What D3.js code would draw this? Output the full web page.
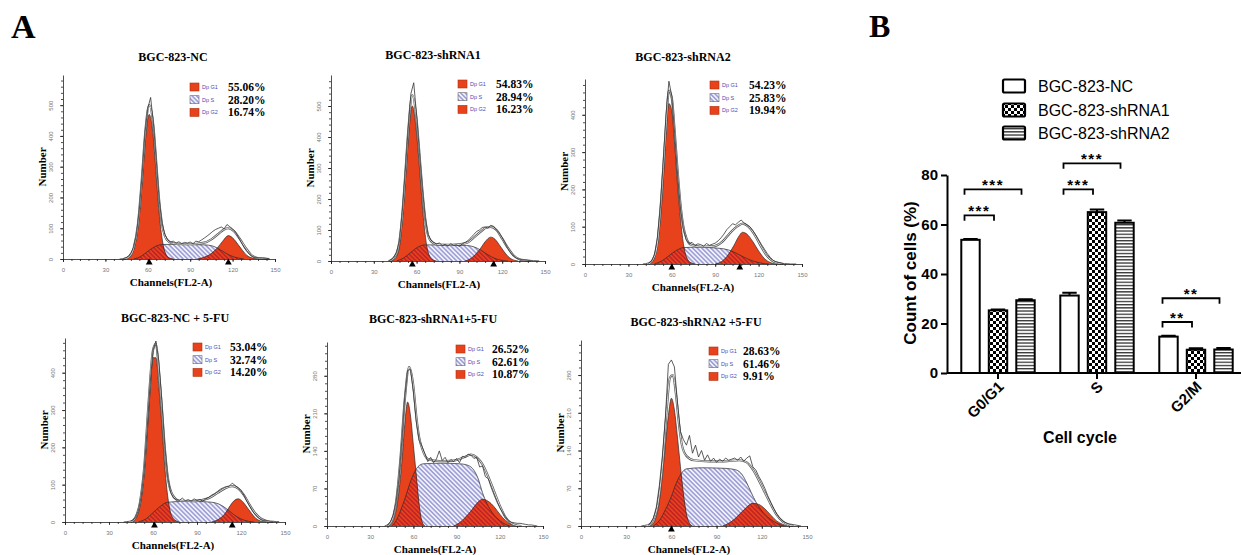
<!DOCTYPE html>
<html lang="en">
<head>
<meta charset="UTF-8">
<title>BGC-823 cell cycle</title>
<style>
  body { margin: 0; background: #fff; }
  svg { display: block; }
</style>
</head>
<body>
<div id="figure"></div>
<script src="https://d3js.org/d3.v7.min.js"></script>
<script>

// ---------- panel A : DNA histograms ----------
const titles = ['BGC-823-NC', 'BGC-823-shRNA1', 'BGC-823-shRNA2',
                'BGC-823-NC + 5-FU', 'BGC-823-shRNA1+5-FU', 'BGC-823-shRNA2 +5-FU'];
const g1Pct = ['55.06%', '54.83%', '54.23%', '53.04%', '26.52%', '28.63%'];
const sPct  = ['28.20%', '28.94%', '25.83%', '32.74%', '62.61%', '61.46%'];
const g2Pct = ['16.74%', '16.23%', '19.94%', '14.20%', '10.87%', '9.91%'];
const yMax  = [598, 600, 496, 493, 343, 345];
const yStep = [100, 100, 100, 100, 70, 70];
const peakMarks = [[61, 117], [57, 114], [60, 107], [61, 114], [], [60]];

const channels = [40,42,44,46,48,50,52,54,56,58,60,62,64,66,68,70,72,74,76,78,80,82,84,86,
                  88,90,92,94,96,98,100,102,104,106,108,110,112,114,116,118,120,122,124,126,
                  128,130,132,134,136,138,140,142,144,146];

const rawCounts = [
  [0,1,3,8,20,38,80,160,275,410,490,525, 440,320,195,118,80,64,55,58,52,56,50,54,
   52,55,50,58,56,62,68,75,82,90,96,100, 104,98,112,105,98,88,72,55,38,25,15,8, 5,4,3,3,2,1],
  [0,4,12,28,65,160,285,420,540,575,470,350, 235,140,85,68,60,55,58,50,54,48,56,50,
   52,47,55,60,66,75,85,95,100,108,110,106, 115,112,100,90,75,58,40,26,16,9,6,4, 3,2,2,1,1,0],
  [0,1,3,8,25,70,150,270,400,490,450,350, 240,150,95,65,55,58,50,54,52,48,55,50,
   53,56,62,70,80,92,100,108,105,112,118,110, 105,100,90,78,65,52,40,28,18,10,6,4, 2,1,1,0,0,0],
  [0,1,2,4,12,30,70,140,250,370,460,485, 430,325,205,120,80,64,60,58,64,57,60,56,
   62,58,60,56,62,66,72,76,82,88,92,95, 96,104,98,92,84,72,56,42,28,18,10,6, 4,3,2,2,1,1],
  [0,2,8,20,45,90,160,240,290,292,250,195, 160,148,135,120,128,118,125,140,122,128,118,124,
   120,126,118,130,128,134,132,126,128,110,112,92, 88,72,58,45,34,25,16,10,7,6,5,5, 4,3,2,2,1,0],
  [0,1,2,5,14,35,75,130,200,300,308,295, 230,175,160,150,168,135,150,128,140,122,132,120,
   126,118,124,120,126,122,124,126,122,128,120,126, 130,110,104,92,82,70,56,44,32,22,14,9, 6,4,3,2,1,0]
];

const g1Curves = [
  [[44,0],[47,6],[50,30],[53,100],[56,250],[58,370],[61,470],[64,390],[66,270],[68,150],[70,70],[72,25],[75,4],[78,0]],
  [[42,0],[45,8],[48,45],[50,130],[52,250],[54,380],[57,500],[60,410],[62,300],[64,180],[66,85],[68,30],[71,5],[74,0]],
  [[44,0],[47,10],[50,50],[52,115],[54,215],[56,350],[58,430],[60,410],[62,320],[64,210],[66,120],[68,55],[70,20],[73,4],[76,0]],
  [[45,0],[48,8],[51,40],[54,130],[56,235],[58,350],[60,440],[62,440],[64,360],[66,260],[68,150],[70,70],[72,25],[75,5],[78,0]],
  [[43,0],[46,10],[49,45],[52,120],[54,190],[56,231],[58,205],[60,150],[62,95],[64,40],[66,8],[68,0]],
  [[46,0],[49,10],[52,45],[55,120],[58,205],[60,237],[62,215],[64,165],[66,110],[68,60],[70,22],[72,5],[74,0]]
];

const sCurves = [
  [[50,0],[55,8],[60,25],[65,40],[70,47],[80,48],[90,47],[100,46],[106,42],[112,28],[118,12],[124,3],[128,0]],
  [[46,0],[51,10],[56,28],[61,45],[66,52],[75,52],[85,51],[95,50],[100,46],[105,35],[110,20],[115,8],[120,2],[124,0]],
  [[48,0],[53,8],[58,22],[63,36],[68,44],[75,45],[85,44],[93,42],[99,38],[104,30],[109,20],[114,11],[119,5],[124,1],[127,0]],
  [[50,0],[55,8],[60,25],[65,42],[70,53],[80,55],[90,55],[100,53],[105,48],[110,36],[115,20],[120,8],[125,2],[129,0]],
  [[45,0],[48,10],[51,28],[54,50],[57,75],[60,96],[63,110],[67,116],[80,117],[92,116],[98,113],[102,104],[105,88],[108,62],[111,42],[115,24],[120,10],[124,3],[127,0]],
  [[48,0],[52,10],[56,30],[60,55],[63,78],[66,95],[70,106],[80,108],[95,107],[103,104],[107,95],[110,80],[113,62],[116,45],[120,28],[125,14],[130,5],[135,0]]
];

const g2Curves = [
  [[95,0],[100,6],[105,18],[109,35],[113,58],[117,76],[121,64],[124,46],[127,28],[130,12],[134,3],[138,0]],
  [[94,0],[98,8],[102,25],[105,42],[108,62],[112,77],[115,70],[118,52],[121,32],[124,15],[127,5],[131,0]],
  [[90,0],[95,8],[99,25],[103,50],[106,72],[109,85],[112,80],[116,60],[120,35],[124,15],[128,4],[132,0]],
  [[100,0],[105,8],[109,22],[112,40],[115,56],[118,62],[121,55],[124,40],[127,24],[130,10],[133,3],[137,0]],
  [[88,0],[92,6],[96,16],[100,28],[104,42],[108,50],[112,46],[116,36],[120,22],[124,10],[128,3],[131,0]],
  [[94,0],[98,5],[102,13],[106,24],[110,35],[114,42],[118,40],[122,32],[126,20],[130,9],[134,3],[137,0]]
];

const fitCurves = [
  [[43,0],[47,8],[50,36],[53,112],[56,272],[58,400],[61,500],[64,430],[66,312],[68,192],[70,115],[72,76],[75,56],[80,49],[90,48],[100,53],[105,64],[110,82],[114,96],[117,100],[121,90],[125,66],[129,38],[133,14],[137,4],[142,1],[146,0]],
  [[41,0],[44,10],[47,40],[50,150],[52,275],[54,410],[57,535],[60,455],[62,345],[64,230],[66,138],[68,84],[71,60],[75,53],[85,52],[95,58],[100,75],[105,95],[109,108],[112,110],[116,100],[120,72],[124,42],[128,18],[132,6],[136,2],[140,0]],
  [[44,0],[47,12],[50,55],[53,190],[56,370],[58,465],[60,445],[62,355],[64,250],[66,160],[68,100],[70,70],[73,52],[80,46],[88,47],[95,60],[100,82],[105,100],[109,108],[113,100],[117,80],[121,52],[125,26],[129,10],[133,3],[137,0]],
  [[45,0],[48,12],[51,50],[54,145],[57,320],[60,460],[62,478],[64,405],[66,308],[68,200],[70,122],[73,75],[78,57],[88,56],[98,64],[104,78],[110,92],[114,96],[118,90],[122,72],[126,45],[130,22],[134,8],[138,2],[142,0]],
  [[42,0],[45,10],[48,45],[51,125],[54,235],[57,296],[60,260],[62,205],[64,165],[66,145],[70,125],[78,121],[88,122],[95,128],[100,133],[104,128],[108,115],[112,92],[116,65],[120,38],[124,16],[128,5],[132,1],[135,0]],
  [[45,0],[48,12],[51,40],[54,110],[57,220],[59,275],[61,280],[63,245],[65,190],[67,150],[70,130],[75,122],[85,120],[95,120],[105,122],[110,118],[114,105],[118,85],[122,62],[126,40],[130,20],[134,8],[138,2],[141,0]]
];

// ---------- panel B : bar chart ----------
const phases = ['G0/G1', 'S', 'G2/M'];
const cellLines = ['BGC-823-NC', 'BGC-823-shRNA1', 'BGC-823-shRNA2'];
const ncMean  = [53.8, 31.3, 14.7];
const sh1Mean = [25.3, 65.0, 9.4];
const sh2Mean = [29.4, 60.7, 9.5];
const ncErr   = [0.3, 1.1, 0.4];
const sh1Err  = [0.4, 1.1, 0.6];
const sh2Err  = [0.4, 0.9, 0.6];
const sigPhase  = [0, 0, 1, 1, 2, 2];
const sigTarget = [1, 2, 1, 2, 1, 2];
const sigLevel  = [63.7, 74.2, 74.2, 84.7, 20.6, 30.2];
const sigStars  = ['***', '***', '***', '***', '**', '**'];


const SERIF = '"Liberation Serif", "Times New Roman", serif';
const SANS = '"Liberation Sans", Arial, sans-serif';
const RED = '#e8421c';

let svg = d3.select('#figure').append('svg')
            .attr('width', 1241)
            .attr('height', 555);

let defs = svg.append('defs');

function hatch(id, bg, fg) {
    let p = defs.append('pattern')
                .attr('id', id)
                .attr('patternUnits', 'userSpaceOnUse')
                .attr('width', 3.2).attr('height', 3.2)
                .attr('patternTransform', 'rotate(-45)');
    p.append('rect').attr('width', 3.2).attr('height', 3.2).attr('fill', bg);
    p.append('line').attr('x1', 0.8).attr('x2', 0.8).attr('y1', 0).attr('y2', 3.2)
     .attr('stroke', fg).attr('stroke-width', 1);
}
hatch('hatchBlue', '#f1f1fa', '#6f6fc6');
hatch('hatchRed', '#e8421c', '#a8122c');

let chk = defs.append('pattern').attr('id', 'checker')
              .attr('patternUnits', 'userSpaceOnUse').attr('width', 6).attr('height', 6);
chk.append('rect').attr('width', 6).attr('height', 6).attr('fill', '#fff');
chk.append('rect').attr('width', 3).attr('height', 3).attr('fill', '#000');
chk.append('rect').attr('x', 3).attr('y', 3).attr('width', 3).attr('height', 3).attr('fill', '#000');

let str = defs.append('pattern').attr('id', 'stripes')
              .attr('patternUnits', 'userSpaceOnUse').attr('width', 4).attr('height', 3.2);
str.append('rect').attr('width', 4).attr('height', 3.2).attr('fill', '#fff');
str.append('rect').attr('width', 4).attr('height', 1.3).attr('fill', '#333');

// figure letters
svg.append('text').attr('x', 11).attr('y', 38).text('A')
   .style('font-family', SERIF).style('font-weight', 'bold').style('font-size', '34px');
svg.append('text').attr('x', 869).attr('y', 37).text('B')
   .style('font-family', SERIF).style('font-weight', 'bold').style('font-size', '32px');

// plot boxes for the six histograms
const layout = [
    { x0: 63,  x1: 275, yb: 259, yt: 75,  tx: 173, ty: 61,  lx: 190, px: 228, ly: 87 },
    { x0: 331, x1: 545, yb: 261, yt: 75,  tx: 433, ty: 59,  lx: 458, px: 496, ly: 84 },
    { x0: 585, x1: 802, yb: 264, yt: 79,  tx: 683, ty: 61,  lx: 710, px: 749, ly: 85 },
    { x0: 65,  x1: 285, yb: 522, yt: 338, tx: 175, ty: 322, lx: 193, px: 230, ly: 347 },
    { x0: 327, x1: 543, yb: 526, yt: 342, tx: 433, ty: 323, lx: 456, px: 492, ly: 349 },
    { x0: 581, x1: 807, yb: 526, yt: 340, tx: 696, ty: 326, lx: 709, px: 743, ly: 351 }
];

layout.forEach(function(L, i) {

    let x = d3.scaleLinear().domain([0, 150]).range([L.x0, L.x1]);
    let y = d3.scaleLinear().domain([0, yMax[i]]).range([L.yb, L.yt]);
    let g = svg.append('g');

    let area = d3.area()
                 .x(function(d) { return x(d[0]) })
                 .y0(y(0))
                 .y1(function(d) { return y(d[1]) })
                 .curve(d3.curveMonotoneX);
    let line = d3.line()
                 .x(function(d) { return x(d[0]) })
                 .y(function(d) { return y(d[1]) })
                 .curve(d3.curveMonotoneX);

    defs.append('clipPath').attr('id', 'clipG1_' + i).append('path').attr('d', area(g1Curves[i]));
    defs.append('clipPath').attr('id', 'clipG2_' + i).append('path').attr('d', area(g2Curves[i]));

    // S phase, then G1 / G2 peaks, then the overlap
    g.append('path').attr('d', area(sCurves[i])).attr('fill', 'url(#hatchBlue)');
    g.append('path').attr('d', area(g1Curves[i])).attr('fill', RED);
    g.append('path').attr('d', area(g2Curves[i])).attr('fill', RED);
    ['clipG1_', 'clipG2_'].forEach(function(c) {
        g.append('path').attr('d', area(sCurves[i]))
         .attr('fill', 'url(#hatchRed)')
         .attr('clip-path', 'url(#' + c + i + ')');
    });
    [g1Curves, sCurves, g2Curves].forEach(function(c) {
        g.append('path').attr('d', line(c[i]))
         .attr('fill', 'none').attr('stroke', '#2b2b2b').attr('stroke-width', 0.7);
    });

    // model fit (double line) and raw histogram
    g.append('path').attr('d', line(fitCurves[i]))
     .attr('fill', 'none').attr('stroke', '#555').attr('stroke-width', 2.2);
    g.append('path').attr('d', line(fitCurves[i]))
     .attr('fill', 'none').attr('stroke', '#fff').attr('stroke-width', 0.8);

    let raw = channels.map(function(c, k) { return [c, rawCounts[i][k]] });
    g.append('path').datum(raw)
     .attr('fill', 'none').attr('stroke', '#333').attr('stroke-width', 0.8)
     .attr('d', d3.line().x(function(d) { return x(d[0]) }).y(function(d) { return y(d[1]) }));

    // axes
    let ax = g.append('g').attr('transform', `translate(0, ${L.yb})`)
              .call(d3.axisBottom(x).tickValues([0, 30, 60, 90, 120, 150]).tickSize(3).tickPadding(6));
    g.append('g').attr('transform', `translate(0, ${L.yb})`)
     .call(d3.axisBottom(x).tickValues(d3.range(0, 151, 6)).tickSize(2).tickFormat(''))
     .select('.domain').remove();

    let ay = g.append('g').attr('transform', `translate(${L.x0}, 0)`)
              .call(d3.axisLeft(y).tickValues(d3.range(0, yMax[i], yStep[i])).tickSize(3).tickSizeOuter(0));
    g.append('g').attr('transform', `translate(${L.x0}, 0)`)
     .call(d3.axisLeft(y).tickValues(d3.range(0, yMax[i], yStep[i] / 5)).tickSize(2).tickFormat(''))
     .select('.domain').remove();

    ay.selectAll('text')
      .attr('transform', 'rotate(-90)')
      .attr('x', 0).attr('y', -10).attr('dy', 0)
      .attr('text-anchor', 'middle');

    g.selectAll('.tick line, .domain').attr('stroke', '#222').attr('stroke-width', 0.8);
    g.selectAll('.tick text').attr('fill', '#777').style('font-size', '6px').style('font-family', SANS);

    // G1 / G2 channel marks
    g.selectAll('.mark')
     .data(peakMarks[i])
     .enter()
     .append('path')
     .attr('d', d3.symbol().type(d3.symbolTriangle).size(20))
     .attr('transform', function(d) { return `translate(${x(d)}, ${L.yb + 3.5})` })
     .attr('fill', '#000');

    // labels
    g.append('text').attr('x', L.tx).attr('y', L.ty).attr('text-anchor', 'middle').text(titles[i])
     .style('font-family', SERIF).style('font-weight', 'bold').style('font-size', '12px');
    g.append('text').attr('x', L.x0 + 108).attr('y', L.yb + 27).attr('text-anchor', 'middle')
     .text('Channels(FL2-A)')
     .style('font-family', SERIF).style('font-weight', 'bold').style('font-size', '11px');
    g.append('text')
     .attr('transform', `translate(${L.x0 - 17}, ${(L.yb + L.yt) / 2}) rotate(-90)`)
     .attr('text-anchor', 'middle').text('Number')
     .style('font-family', SERIF).style('font-weight', 'bold').style('font-size', '11px');

    // small legend
    let rows = [['Dp G1', g1Pct[i], RED], ['Dp S', sPct[i], 'url(#hatchBlue)'], ['Dp G2', g2Pct[i], RED]];
    rows.forEach(function(r, k) {
        let cy = L.ly + k * 12.7;
        g.append('rect').attr('x', L.lx).attr('y', cy - 4).attr('width', 9).attr('height', 8)
         .attr('fill', r[2]).attr('stroke', k === 1 ? '#666' : '#b03010').attr('stroke-width', 0.6);
        g.append('text').attr('x', L.lx + 12).attr('y', cy + 2).text(r[0])
         .attr('fill', '#4a4ab8').style('font-family', SANS).style('font-size', '5.5px');
        g.append('text').attr('x', L.px).attr('y', cy + 4).text(r[1])
         .style('font-family', SERIF).style('font-weight', 'bold').style('font-size', '11.5px');
    });
});


// ---------- panel B ----------
let means = [ncMean, sh1Mean, sh2Mean];
let errs = [ncErr, sh1Err, sh2Err];
let fills = ['#fff', 'url(#checker)', 'url(#stripes)'];

let bx = d3.scaleBand().domain(phases).range([948.5, 1245.5]);
let bInner = d3.scaleBand().domain(cellLines).range([-41.25, 41.25])
               .paddingInner(0.33).paddingOuter(0.165);
let by = d3.scaleLinear().domain([0, 80]).range([373, 175]);

function barCenter(p, l) {
    return bx(phases[p]) + bx.bandwidth() / 2 + bInner(cellLines[l]) + bInner.bandwidth() / 2;
}

let bars = [];
phases.forEach(function(p, pi) {
    cellLines.forEach(function(l, li) {
        bars.push({ p: pi, l: li, mean: means[li][pi], err: errs[li][pi] });
    });
});

let gb = svg.append('g');

gb.selectAll('.bar')
  .data(bars)
  .enter()
  .append('rect')
  .attr('x', function(d) { return barCenter(d.p, d.l) - bInner.bandwidth() / 2 })
  .attr('y', function(d) { return by(d.mean) })
  .attr('width', bInner.bandwidth())
  .attr('height', function(d) { return by(0) - by(d.mean) })
  .attr('fill', function(d) { return fills[d.l] })
  .attr('stroke', '#000')
  .attr('stroke-width', 2);

// error bars
gb.selectAll('.err')
  .data(bars)
  .enter()
  .append('path')
  .attr('d', function(d) {
      let c = barCenter(d.p, d.l), w = bInner.bandwidth() / 2 - 2;
      return `M${c},${by(d.mean)}V${by(d.mean + d.err)}M${c - w},${by(d.mean + d.err)}H${c + w}`;
  })
  .attr('stroke', '#000')
  .attr('stroke-width', 2)
  .attr('fill', 'none');

// axes
let bxAxis = gb.append('g').attr('transform', 'translate(0, 373)')
               .call(d3.axisBottom(bx).tickSize(6).tickSizeOuter(0));
bxAxis.select('.domain').attr('d', 'M947,0H1241');
bxAxis.selectAll('text')
      .attr('y', 0).attr('dy', '0.35em')
      .attr('transform', 'translate(3, 11) rotate(-45)')
      .attr('text-anchor', 'end');

let byAxis = gb.append('g').attr('transform', 'translate(947, 0)')
               .call(d3.axisLeft(by).tickValues([0, 20, 40, 60, 80]).tickSize(6).tickSizeOuter(0).tickPadding(3));

gb.selectAll('.domain, .tick line').attr('stroke', '#000').attr('stroke-width', 2);
gb.selectAll('.tick text').attr('fill', '#000')
  .style('font-family', SANS).style('font-weight', 'bold').style('font-size', '15px');

// significance
sigPhase.forEach(function(p, k) {
    let x1 = barCenter(p, 0) - 6;
    let x2 = barCenter(p, sigTarget[k]) - 4;
    let yy = by(sigLevel[k]);
    gb.append('path')
      .attr('d', `M${x1},${yy + 5.5}V${yy}H${x2}V${yy + 5.5}`)
      .attr('fill', 'none').attr('stroke', '#000').attr('stroke-width', 1.8);
    gb.append('text').attr('x', (x1 + x2) / 2).attr('y', yy + 1)
      .attr('text-anchor', 'middle').text(sigStars[k])
      .style('letter-spacing', '1.5px')
      .style('font-family', SANS).style('font-weight', 'bold').style('font-size', '15px');
});

// titles
gb.append('text').attr('x', 1080).attr('y', 443).attr('text-anchor', 'middle').text('Cell cycle')
  .style('font-family', SANS).style('font-weight', 'bold').style('font-size', '16px');
gb.append('text').attr('transform', 'translate(916, 273) rotate(-90)')
  .attr('text-anchor', 'middle').text('Count of cells (%)')
  .style('font-family', SANS).style('font-weight', 'bold').style('font-size', '17px');

// legend
cellLines.forEach(function(l, k) {
    let cy = [86, 110, 133][k];
    gb.append('rect').attr('x', 1003).attr('y', cy - 6.5).attr('width', 22).attr('height', 13)
      .attr('rx', 1.5).attr('fill', fills[k]).attr('stroke', '#000').attr('stroke-width', 2.2);
    gb.append('text').attr('x', 1038).attr('y', cy + 6).text(l)
      .style('font-family', SANS).style('font-size', '16px');
});

</script>
</body>
</html>
